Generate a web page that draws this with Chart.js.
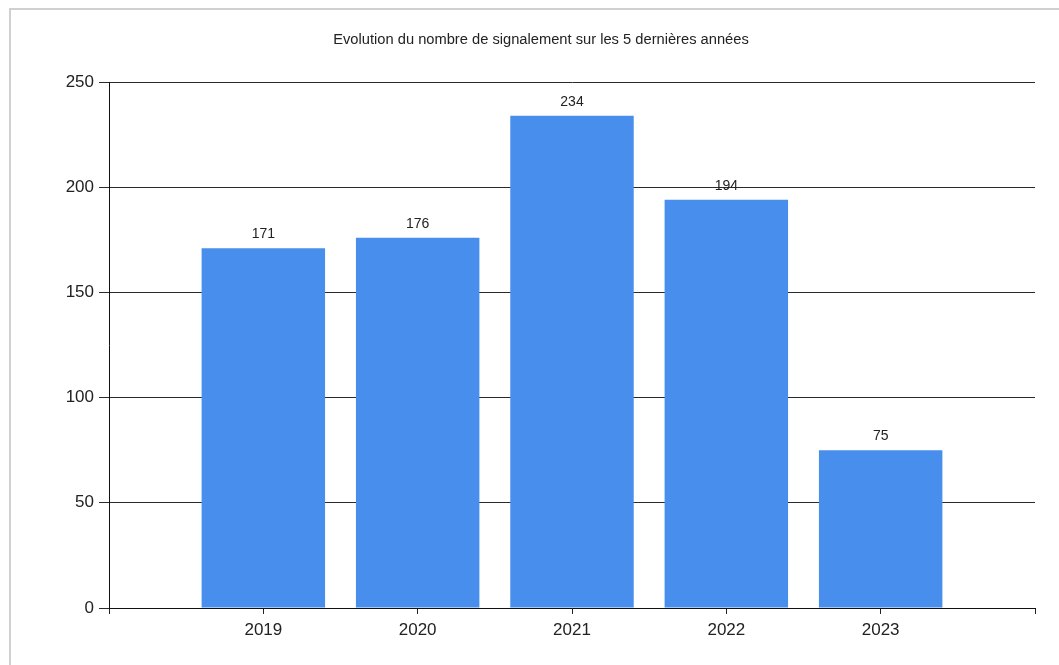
<!DOCTYPE html>
<html>
<head>
<meta charset="utf-8">
<script src="https://cdn.jsdelivr.net/npm/chart.js@4"></script>
<style>
  html, body { margin: 0; padding: 0; background: #fff; }
  #wrap { position: absolute; left: 0; top: 0; width: 1059px; height: 665px; }
  #frame { position: absolute; left: 9px; top: 8px; width: 1060px; height: 670px;
           border-top: 2px solid #d0d0d0; border-left: 2px solid #d0d0d0; }
  canvas { position: absolute; left: 0; top: 0; }
</style>
</head>
<body>
<div id="wrap">
  <div id="frame"></div>
  <canvas id="c" width="1059" height="665"></canvas>
</div>
<script>
const chartTitle = 'Evolution du nombre de signalement sur les 5 dernières années';
const categories = ['2019', '2020', '2021', '2022', '2023'];
const values = [171, 176, 234, 194, 75];
const yTicks = [0, 50, 100, 150, 200, 250];

// pad with empty slots at both ends so the categories sit at 1..5 of a 0..6 axis
const labels = [''].concat(categories, ['']);
const data = [null].concat(values, [null]);

const FONT = '"Liberation Sans", Arial, sans-serif';

const titleAndLabels = {
  id: 'titleAndLabels',
  afterDraw(chart) {
    const ctx = chart.ctx;
    ctx.save();
    ctx.font = '14.7px ' + FONT;
    ctx.fillStyle = '#222';
    ctx.textAlign = 'center';
    ctx.textBaseline = 'middle';
    ctx.fillText(chartTitle, 541, 40);
    ctx.restore();
  },
  afterDatasetsDraw(chart) {
    const ctx = chart.ctx;
    const meta = chart.getDatasetMeta(0);
    ctx.save();
    ctx.font = '14px ' + FONT;
    ctx.fillStyle = '#222';
    ctx.textAlign = 'center';
    ctx.textBaseline = 'bottom';
    meta.data.forEach((bar, i) => {
      const v = chart.data.datasets[0].data[i];
      if (v === null || v === undefined) return;
      ctx.fillText(String(v), bar.x, bar.y - 7);
    });
    ctx.restore();
  }
};

new Chart(document.getElementById('c'), {
  type: 'bar',
  data: {
    labels: labels,
    datasets: [{
      data: data,
      backgroundColor: '#488fed',
      borderWidth: 0,
      categoryPercentage: 1.0,
      barPercentage: 0.8
    }]
  },
  options: {
    responsive: false,
    animation: false,
    devicePixelRatio: 1,
    layout: { padding: { left: 0, right: 24, top: 82, bottom: 0 } },
    plugins: {
      legend: { display: false },
      tooltip: { enabled: false },
      title: { display: false }
    },
    scales: {
      x: {
        type: 'category',
        offset: false,
        grid: {
          offset: false,
          drawOnChartArea: false,
          drawTicks: true,
          tickLength: 6,
          color: '#222',
          lineWidth: 1
        },
        border: { display: true, color: '#111', width: 1 },
        ticks: {
          autoSkip: false,
          maxRotation: 0,
          padding: 6,
          color: '#222',
          font: { family: FONT, size: 17 }
        },
        afterFit(scale) { scale.height = 57; }
      },
      y: {
        min: 0,
        max: 250,
        afterBuildTicks(scale) { scale.ticks = yTicks.map(v => ({ value: v })); },
        grid: {
          drawOnChartArea: true,
          drawTicks: true,
          tickLength: 10,
          color: '#2a2a2a',
          lineWidth: 1
        },
        border: { display: true, color: '#111', width: 1 },
        ticks: {
          padding: 5,
          color: '#222',
          font: { family: FONT, size: 17 }
        },
        afterFit(scale) { scale.width = 109; }
      }
    }
  },
  plugins: [titleAndLabels]
});
</script>
</body>
</html>
